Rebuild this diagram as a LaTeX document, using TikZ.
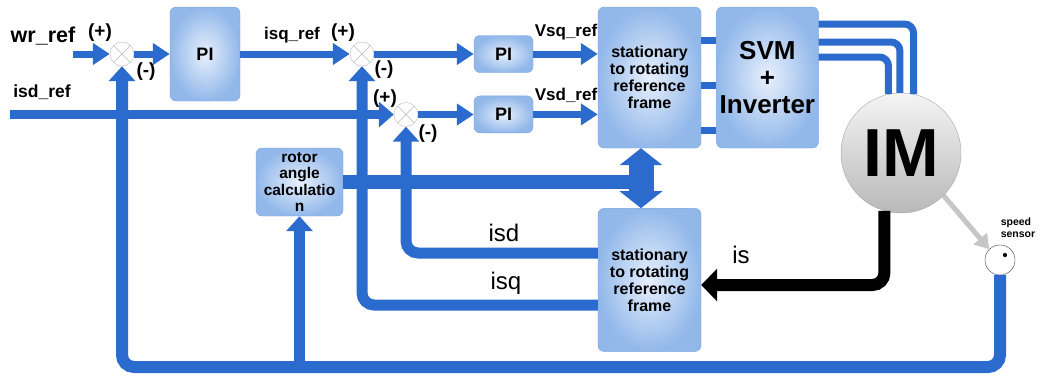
\documentclass[tikz,border=0pt]{standalone}
\usepackage{fontspec}
\setmainfont{Liberation Sans}
\usetikzlibrary{arrows.meta, positioning, calc}
\definecolor{colLine}{RGB}{43,107,206}
\definecolor{colBoxIn}{RGB}{232,240,252}
\definecolor{colBoxOut}{RGB}{146,184,234}
\definecolor{colBoxEdge}{RGB}{118,162,226}

\begin{document}
\begin{tikzpicture}[x=1pt, y=-1pt,
  blk/.style={rectangle, rounded corners=6pt, draw=colBoxEdge, inner color=colBoxIn,
              outer color=colBoxOut, align=center, inner sep=1pt,
              font=\bfseries\fontsize{16}{17}\selectfont},
  sumj/.style={circle, draw=gray!55, fill=white, minimum size=24pt, inner sep=0pt,
               path picture={\draw[gray!55]
                 (path picture bounding box.north west) -- (path picture bounding box.south east)
                 (path picture bounding box.north east) -- (path picture bounding box.south west);}},
  fwd/.style={colLine, line width=7pt, -{Triangle[width=21pt, length=17pt]}},
  fb/.style={colLine, line width=11pt, rounded corners=12pt},
  fbtip/.style={-{Triangle[width=26pt, length=15pt]}},
  sgn/.style={font=\bfseries\fontsize{19}{19}\selectfont},
  lbl/.style={font=\bfseries\fontsize{17}{17}\selectfont},
  cur/.style={font=\fontsize{24}{24}\selectfont},
]
\useasboundingbox (0,0) rectangle (1046,376);

% blocks
\node[blk, minimum width=70pt, minimum height=94pt, font=\bfseries\fontsize{18}{18}\selectfont] (pi1) at (205,54) {PI};
\node[blk, minimum width=59pt, minimum height=37pt, font=\bfseries\fontsize{18}{18}\selectfont] (pi2) at (503.5,54) {PI};
\node[blk, below=23pt of pi2, minimum width=59pt, minimum height=37pt, font=\bfseries\fontsize{18}{18}\selectfont] (pi3) {PI};
\node[blk, minimum width=103pt, minimum height=141pt] (frame1) at (649.5,77.5)
  {stationary\\to rotating\\reference\\frame};
\node[blk, right=15pt of frame1, minimum width=102pt, minimum height=141pt,
      font=\bfseries\fontsize{26}{27}\selectfont] (svm) {SVM\\+\\Inverter};
\node[blk, below=60pt of frame1, minimum width=103pt, minimum height=143pt] (frame2)
  {stationary\\to rotating\\reference\\frame};
\node[blk, minimum width=87pt, minimum height=68pt, font=\bfseries\fontsize{15.5}{16.5}\selectfont] (rotor) at (299.5,182)
  {rotor\\angle\\calculatio\\n};

% summing junctions
\node[sumj] (sum1) at (122,54) {};
\node[sumj] (sum2) at (362,54) {};
\node[sumj] (sum3) at (406,114.5) {};

% motor and sensor
\node[circle, draw=gray!70, top color=gray!8, bottom color=gray!55, minimum size=120pt, inner sep=0pt,
      font=\bfseries\fontsize{68}{68}\selectfont] (im) at (901,153) {IM};
\node[circle, draw=black!75, fill=white, minimum size=30pt, inner sep=0pt] (sensor) at (1000,260) {};
\node[circle, fill=black, inner sep=1.5pt] (sdot) at ([shift={(5pt,5pt)}]sensor.center) {};

\coordinate (wrin) at (73,54);
\coordinate (isdin) at (10,114.5);
\coordinate (dtop) at ([xshift=-8.5pt]frame1.south);
\coordinate (dbot) at ([xshift=-8.5pt]frame2.north);

% forward path
\draw[fwd] (wrin) -- (sum1.west);
\draw[fwd] (sum1.east) -- (sum1.east -| pi1.west);
\draw[fwd] (pi1.east) -- (pi1.east -| sum2.west);
\draw[fwd] (sum2.east) -- (sum2.east -| pi2.west);
\draw[fwd] (sum3.east) -- (sum3.east -| pi3.west);
\draw[fwd] (pi2.east) -- (pi2.east -| frame1.west);
\draw[fwd] (pi3.east) -- (pi3.east -| frame1.west);
\draw[colLine, line width=9pt, -{Triangle[width=25pt, length=15pt]}] (isdin) -- (sum3.west);
\foreach \yy in {40,85,130}
  \draw[colLine, line width=7pt] (frame1.east |- 0,\yy) -- (svm.west |- 0,\yy);
\foreach \yy/\aa in {24/78, 42/91, 57/102}
  \draw[colLine, line width=7pt, rounded corners=9pt] (svm.east |- 0,\yy) -| (im.\aa);

% feedback
\draw[fb, fbtip] (frame2.west |- 0,253) -| (sum3.south);
\draw[fb, fbtip] (frame2.west |- 0,305) -| (sum2.south);
\draw[fb, line width=12pt, fbtip] (sensor.south) |- (sum1 |- 0,367) -- (sum1.south);
\draw[fb, fbtip] (rotor.south |- 0,367) -- (rotor.south);
\draw[colLine, line width=14pt] (rotor.east) -- (rotor.east -| dtop);
\draw[colLine, line width=25pt, {Triangle[width=42pt, length=17pt]}-{Triangle[width=42pt, length=17pt]}] (dtop) -- (dbot);
\draw[black, line width=12pt, rounded corners=12pt, -{Triangle[width=32pt, length=16pt]}]
  (im.-106) |- (frame2.east |- 0,285);
\draw[gray!45, line width=5pt, -{Triangle[width=17pt, length=14pt]}] (im.-45) -- (sensor.north west);

% labels
\node[font=\bfseries\fontsize{21.5}{21.5}\selectfont] (wrlbl) at (43,36) {wr\_ref};
\node[font=\bfseries\fontsize{17.5}{17.5}\selectfont] (isdlbl) at (42,92) {isd\_ref};
\node[lbl] (isqref) at (292,35) {isq\_ref};
\node[lbl] (vsq) at (566,32) {Vsq\_ref};
\node[lbl] (vsd) at (566,95) {Vsd\_ref};
\node[sgn] (p1) at (100,33) {(+)};
\node[sgn] (m1) at (146,72) {(-)};
\node[sgn] (p2) at (343,33) {(+)};
\node[sgn] (m2) at (384,70) {(-)};
\node[sgn] (p3) at (385,99) {(+)};
\node[sgn] (m3) at (428,134) {(-)};
\node[cur] (isdl) at (504,233) {isd};
\node[cur] (isql) at (506,283) {isq};
\node[cur] (isl) at (741,255) {is};
\node[align=left, font=\bfseries\fontsize{10.5}{12}\selectfont] (spd) at (1018,228) {speed\\sensor};

\end{tikzpicture}
\end{document}
